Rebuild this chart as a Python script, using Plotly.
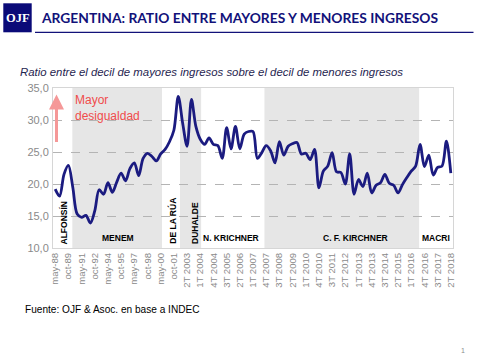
import plotly.graph_objects as go

# ---------------- data ----------------
periodos = [
    "may-88", "oct-88", "may-89", "oct-89", "may-90", "oct-90", "may-91", "oct-91",
    "may-92", "oct-92", "may-93", "oct-93", "may-94", "oct-94", "may-95", "oct-95",
    "may-96", "oct-96", "may-97", "oct-97", "may-98", "oct-98", "may-99", "oct-99",
    "may-00", "oct-00", "may-01", "oct-01", "may-02", "oct-02",
    "2T 2003", "3T 2003", "4T 2003",
    "1T 2004", "2T 2004", "3T 2004", "4T 2004",
    "1T 2005", "2T 2005", "3T 2005", "4T 2005",
    "1T 2006", "2T 2006", "3T 2006", "4T 2006",
    "1T 2007", "2T 2007", "3T 2007", "4T 2007",
    "1T 2008", "2T 2008", "3T 2008", "4T 2008",
    "1T 2009", "2T 2009", "3T 2009", "4T 2009",
    "1T 2010", "2T 2010", "3T 2010", "4T 2010",
    "1T 2011", "2T 2011", "3T 2011", "4T 2011",
    "1T 2012", "2T 2012", "3T 2012", "4T 2012",
    "1T 2013", "2T 2013", "3T 2013", "4T 2013",
    "1T 2014", "2T 2014", "3T 2014", "4T 2014",
    "1T 2015", "2T 2015", "3T 2015", "4T 2015",
    "1T 2016", "2T 2016", "3T 2016", "4T 2016",
    "1T 2017", "2T 2017", "3T 2017", "4T 2017",
    "1T 2018", "2T 2018",
]

ratio = [
    19.2, 18.1, 21.5, 22.9, 19.5, 15.3, 14.8, 15.1,
    13.9, 15.8, 19.1, 18.4, 20.2, 18.7, 20.3, 21.7,
    20.5, 22.4, 23.3, 21.3, 24.0, 24.8, 24.3, 23.6,
    24.7, 25.4, 26.6, 28.4, 33.7, 29.5,
    25.9, 33.2, 29.0,
    27.0, 26.2, 27.2, 26.2,
    26.0, 24.0, 28.8, 25.5,
    29.0, 25.5, 27.8, 28.2,
    28.2, 24.0, 24.9, 26.0,
    25.2, 23.3, 26.6, 24.5,
    25.9, 26.3, 26.5, 24.7,
    24.8, 23.8, 25.4, 19.4,
    22.0, 22.8, 24.9, 21.9,
    21.8, 20.0, 24.7, 18.4,
    20.7, 19.6, 21.7, 18.6,
    19.8, 20.2, 21.5, 20.1,
    19.8, 18.6, 19.9, 21.0,
    22.0, 22.8, 26.2, 22.7,
    24.5, 21.4, 22.6, 22.8,
    26.7, 21.7,
]

tick_labels = periodos[::3]
y_ticks = [10, 15, 20, 25, 30, 35]

# presidential periods (category-index units), shaded or not
gobiernos = ["ALFONSÍN", "MENEM", "DE LA RÚA", "DUHALDE", "N. KRICHNER", "C. F. KIRCHNER", "MACRI"]
gob_inicio = [-0.5, 3.9, 24.3, 28.4, 33.2, 47.6, 82.8]
gob_fin = [3.9, 24.3, 28.4, 33.2, 47.6, 82.8, 90.5]
gob_sombra = [False, True, False, True, False, True, False]
gob_label_x = [2.0, 14.4, 26.5, 31.8, 40.1, 68.3, 86.6]
gob_vertical = [True, False, True, True, False, False, False]

# ---------------- figure ----------------
W, H = 480, 360
ML, MR, MT, MB = 53, 27, 88, 112
PW, PH = W - ML - MR, H - MT - MB


def px(x):
    return (x - ML) / PW


def py(y):
    return (H - MB - y) / PH


NAVY = "#12127a"
BODY = "Liberation Sans, Arial, sans-serif"

fig = go.Figure()
fig.add_trace(go.Scatter(
    x=periodos, y=ratio, mode="lines",
    line=dict(color="#1b1b80", width=2.8, shape="spline", smoothing=0.9),
    hoverinfo="x+y", showlegend=False,
))

shapes = []
annotations = []
for nombre, x0, x1, sh, lx, vert in zip(gobiernos, gob_inicio, gob_fin, gob_sombra, gob_label_x, gob_vertical):
    if sh:
        shapes.append(dict(type="rect", xref="x", yref="paper", x0=x0, x1=x1, y0=0, y1=1,
                           fillcolor="#e6e6e6", line=dict(width=0), layer="below"))
    if vert:
        annotations.append(dict(x=lx, y=10, xref="x", yref="y", text="<b>%s</b>" % nombre,
                                textangle=-90, showarrow=False, xanchor="center", yanchor="bottom",
                                yshift=2, font=dict(family=BODY, size=8.5, color="#000000")))
    else:
        annotations.append(dict(x=lx, y=10, xref="x", yref="y", text="<b>%s</b>" % nombre,
                                showarrow=False, xanchor="center", yanchor="bottom",
                                yshift=3, font=dict(family=BODY, size=8.5, color="#000000")))

# logo
shapes.append(dict(type="rect", xref="paper", yref="paper", x0=px(3.3), x1=px(31.7), y0=py(32.3), y1=py(3.3),
                   fillcolor="#0a0a78", line=dict(width=0)))
annotations.append(dict(x=px(17.5), y=py(18), xref="paper", yref="paper", text="<b>OJF</b>",
                        showarrow=False, xanchor="center", yanchor="middle", borderpad=0,
                        font=dict(family="Liberation Serif, serif", size=12.5, color="white")))
# title + underline
annotations.append(dict(x=px(38.5), y=py(17.5), xref="paper", yref="paper",
                        text="<b>ARGENTINA: RATIO ENTRE MAYORES Y MENORES INGRESOS</b>",
                        showarrow=False, xanchor="left", yanchor="middle",
                        font=dict(family="Lato, sans-serif", size=13.8, color=NAVY)))
shapes.append(dict(type="line", xref="paper", yref="paper", x0=px(35), x1=px(473.5), y0=py(32.3), y1=py(32.3),
                   line=dict(color=NAVY, width=1.3)))
# subtitle
annotations.append(dict(x=px(18), y=py(72), xref="paper", yref="paper",
                        text="<i>Ratio entre el decil de mayores ingresos sobre el decil de menores ingresos</i>",
                        showarrow=False, xanchor="left", yanchor="middle",
                        font=dict(family=BODY, size=11.4, color="#1f2550")))
# arrow + text
annotations.append(dict(x=px(56.5), y=py(94.5), xref="paper", yref="paper", text="",
                        showarrow=True, ax=0, ay=49, arrowhead=2, arrowsize=1, arrowwidth=3,
                        arrowcolor="#f59898"))
annotations.append(dict(x=px(72.5), y=py(108), xref="paper", yref="paper",
                        text="Mayor<br>desigualdad", align="left",
                        showarrow=False, xanchor="left", yanchor="middle",
                        font=dict(family=BODY, size=12, color="#f04c4c")))
# source
annotations.append(dict(x=px(22.5), y=py(309.3), xref="paper", yref="paper",
                        text="Fuente: OJF &amp; Asoc. en base a INDEC",
                        showarrow=False, xanchor="left", yanchor="middle",
                        font=dict(family=BODY, size=10.1, color="#000000")))
# page number
annotations.append(dict(x=px(463), y=py(350), xref="paper", yref="paper", text="1",
                        showarrow=False, xanchor="center", yanchor="middle",
                        font=dict(family=BODY, size=7, color="#8c8c8c")))

fig.update_layout(
    width=W, height=H,
    margin=dict(l=ML, r=MR, t=MT, b=MB, autoexpand=False),
    paper_bgcolor="white", plot_bgcolor="white",
    separators=",.",
    shapes=shapes, annotations=annotations,
    font=dict(family=BODY),
    showlegend=False,
)
fig.update_xaxes(
    type="category", range=[-0.5, len(periodos) - 0.5],
    tickmode="array", tickvals=tick_labels, ticktext=tick_labels,
    tickangle=-90, tickfont=dict(family=BODY, size=9.6, color="#8a8a8a"),
    showgrid=False, zeroline=False, ticks="",
    showline=True, linecolor="#d6d6d6", linewidth=1, mirror=True,
)
fig.update_yaxes(
    range=[10, 35], tickmode="array", tickvals=y_ticks, tickformat=".1f",
    tickfont=dict(family=BODY, size=11, color="#8a8a8a"),
    showgrid=True, gridcolor="#b4b4b4", griddash="dash", gridwidth=1,
    zeroline=False, ticks="", ticklabelstandoff=1,
    showline=True, linecolor="#d6d6d6", linewidth=1, mirror=True,
)

# remove the browser's default 8px page margin so the figure sits at (0, 0)
fig.write_html("out.html", config=dict(displayModeBar=False),
               post_script="document.body.style.margin='0';")
